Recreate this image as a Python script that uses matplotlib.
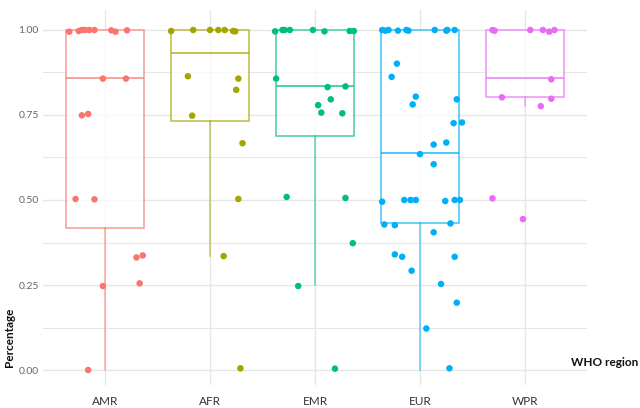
import matplotlib
matplotlib.use('Agg')
import matplotlib.pyplot as plt

# categories and colours (ggplot hue palette)
regions = ["AMR", "AFR", "EMR", "EUR", "WPR"]
colors = ["#F8766D", "#A3A500", "#00BF7D", "#00B0F6", "#E76BF3"]

# box statistics: lower whisker, Q1, median, Q3, upper whisker
whislo = [0.0, 0.335, 0.25, 0.0, 0.776]
q1 = [0.418, 0.731, 0.689, 0.431, 0.803]
med = [0.859, 0.932, 0.834, 0.639, 0.860]
q3 = [1.0, 1.0, 1.0, 1.0, 1.0]
whishi = [1.0, 1.0, 1.0, 1.0, 1.0]

# jittered points: values and horizontal jitter (category units)
amr_vals = [0.995, 0.997, 1.0, 1.0, 1.0, 1.0, 0.999, 0.995, 0.999, 0.857, 0.857,
            0.749, 0.753, 0.503, 0.502, 0.331, 0.337, 0.247, 0.255, 0.0]
amr_jit = [-0.34, -0.25, -0.22, -0.19, -0.15, -0.10, 0.06, 0.10, 0.21, -0.02, 0.20,
           -0.22, -0.16, -0.28, -0.10, 0.30, 0.36, -0.02, 0.33, -0.16]

afr_vals = [0.997, 1.0, 1.0, 1.0, 1.0, 0.997, 0.996, 0.864, 0.857, 0.824, 0.748,
            0.667, 0.503, 0.335, 0.005]
afr_jit = [-0.37, -0.16, 0.0, 0.08, 0.14, 0.22, 0.24, -0.21, 0.27, 0.25, -0.17,
           0.31, 0.27, 0.13, 0.29]

emr_vals = [0.996, 1.0, 1.0, 1.0, 1.0, 0.996, 0.997, 0.997, 0.857, 0.832, 0.834,
            0.796, 0.779, 0.757, 0.755, 0.509, 0.506, 0.373, 0.247, 0.004]
emr_jit = [-0.38, -0.31, -0.29, -0.24, -0.02, 0.09, 0.33, 0.37, -0.37, 0.12, 0.29,
           0.15, 0.03, 0.06, 0.26, -0.27, 0.29, 0.36, -0.16, 0.19]

eur_vals = [1.0, 0.998, 1.0, 0.998, 1.0, 0.998, 1.0, 0.998, 1.0, 1.0,
            0.901, 0.862, 0.804, 0.781, 0.796, 0.726, 0.728, 0.663, 0.669, 0.635, 0.605,
            0.495, 0.5, 0.5, 0.5, 0.497, 0.5, 0.5,
            0.428, 0.426, 0.431, 0.405, 0.340, 0.333, 0.333, 0.292, 0.253, 0.198, 0.122, 0.005]
eur_jit = [-0.36, -0.33, -0.30, -0.21, -0.13, -0.11, 0.14, 0.25, 0.26, 0.33,
           -0.22, -0.27, -0.04, -0.07, 0.35, 0.32, 0.40, 0.13, 0.25, 0.0, 0.13,
           -0.36, -0.15, -0.09, -0.04, 0.24, 0.33, 0.38,
           -0.34, -0.24, 0.29, 0.13, -0.24, -0.17, 0.33, -0.08, 0.20, 0.35, 0.06, 0.28]

wpr_vals = [1.0, 0.998, 1.0, 1.0, 0.995, 1.0, 0.855, 0.802, 0.798, 0.776, 0.505, 0.444]
wpr_jit = [-0.31, -0.29, 0.05, 0.17, 0.23, 0.28, 0.25, -0.22, 0.25, 0.15, -0.31, -0.02]

points = [(amr_vals, amr_jit), (afr_vals, afr_jit), (emr_vals, emr_jit),
          (eur_vals, eur_jit), (wpr_vals, wpr_jit)]

yticks = [0.0, 0.25, 0.5, 0.75, 1.0]
ytick_labels = ["0.00", "0.25", "0.50", "0.75", "1.00"]

plt.rcParams['font.family'] = ['Lato', 'DejaVu Sans']

fig = plt.figure(figsize=(6.4, 4.08), dpi=100)
ax = fig.add_axes([43 / 640, 1 - 385 / 408, 544 / 640, 375 / 408])

# grid, ggplot minimal style
grid_col = "#E6E6E6"
for y in [0.125, 0.375, 0.625, 0.875]:
    ax.axhline(y, color=grid_col, lw=0.8, zorder=0)
ax.grid(True, axis='both', color=grid_col, lw=1.0, zorder=0)
ax.set_axisbelow(True)

for i, name in enumerate(regions):
    st = dict(whislo=whislo[i], q1=q1[i], med=med[i], q3=q3[i], whishi=whishi[i], fliers=[])
    col = colors[i]
    ax.bxp([st], positions=[i + 1], widths=0.75, showcaps=False, patch_artist=True,
           boxprops=dict(facecolor="white", edgecolor=col, lw=1.1, alpha=0.75),
           medianprops=dict(color=col, lw=1.3, alpha=0.75),
           whiskerprops=dict(color=col, lw=1.1, alpha=0.6),
           zorder=2)
    vals, jit = points[i]
    xs = [i + 1 + j for j in jit]
    ax.scatter(xs, vals, s=22, color=col, edgecolors='none', zorder=3)

ax.set_xlim(0.41, 5.59)
ax.set_ylim(-0.0441, 1.0588)
ax.set_xticks(range(1, len(regions) + 1))
ax.set_xticklabels(regions, fontsize=8.5, color="#333333")
ax.set_yticks(yticks)
ax.set_yticklabels(ytick_labels, fontsize=7.5, color="#666666")
ax.tick_params(axis='x', length=0, pad=8)
ax.tick_params(axis='y', length=0, pad=3)
for s in ax.spines.values():
    s.set_visible(False)

fig.text(0.006, 1 - 337 / 408, "Percentage", rotation=90, ha='left', va='center',
         fontsize=8.5, fontweight='bold', color="#111111")
fig.text(638 / 640, 1 - 363 / 408, "WHO region", ha='right', va='center',
         fontsize=8.5, fontweight='bold', color="#111111")

plt.savefig("out.png", dpi=100)
